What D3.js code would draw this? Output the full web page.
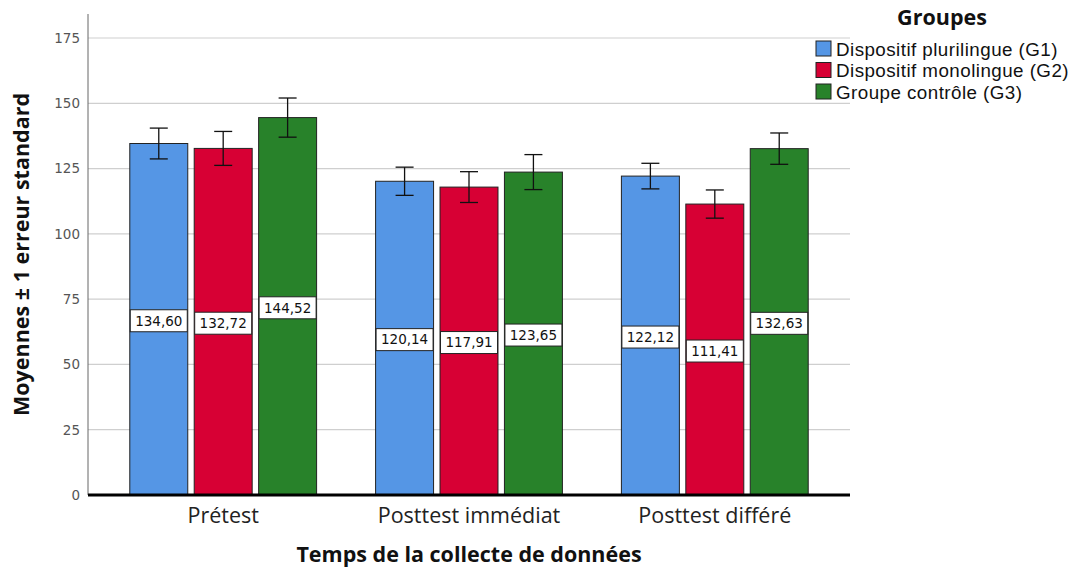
<!DOCTYPE html>
<html><head><meta charset="utf-8">
<script src="https://cdn.jsdelivr.net/npm/d3@7"></script>
<style>body{margin:0;background:#fff}svg{display:block}</style>
</head><body><svg id="c" width="1073" height="571"></svg>
<script>
const categories = ["Prétest", "Posttest immédiat", "Posttest différé"];
const groups = ["Dispositif plurilingue (G1)", "Dispositif monolingue (G2)", "Groupe contrôle (G3)"];
const g1Means = [134.60, 120.14, 122.12];
const g2Means = [132.72, 117.91, 111.41];
const g3Means = [144.52, 123.65, 132.63];
const g1SE = [5.9, 5.4, 4.9];
const g2SE = [6.5, 5.9, 5.4];
const g3SE = [7.5, 6.7, 6.0];
const yTicks = [0, 25, 50, 75, 100, 125, 150, 175];
const colors = ["#5596e5", "#d70034", "#28822a"];

const means = [g1Means, g2Means, g3Means];
const ses = [g1SE, g2SE, g3SE];
const data = [];
categories.forEach((c, i) => groups.forEach((g, j) => data.push({cat: c, grp: g, j, mean: means[j][i], se: ses[j][i]})));

const svg = d3.select("#c");
const L = 88, R = 850, T = 14, B = 495;
const x = d3.scaleBand().domain(categories).range([L, R]).paddingInner(0.24).paddingOuter(0.17);
const xs = d3.scaleBand().domain(groups).range([0, x.bandwidth()]).paddingInner(0.1).paddingOuter(0);
const y = d3.scaleLinear().domain([0, 175]).range([B, 38]);

// gridlines
svg.append("g").selectAll("line").data(yTicks.filter(t => t > 0)).join("line")
  .attr("x1", L).attr("x2", R).attr("y1", d => y(d)).attr("y2", d => y(d))
  .attr("stroke", "#cfcfcf").attr("stroke-width", 1.2);

// y axis
const ya = svg.append("g").attr("transform", `translate(${L},0)`)
  .call(d3.axisLeft(y).tickValues(yTicks).tickSize(0).tickPadding(8));
ya.select(".domain").remove();
ya.selectAll("text").attr("font-family", "'DejaVu Sans', sans-serif").attr("font-size", 13.5).attr("fill", "#555");
svg.append("line").attr("x1", L).attr("x2", L).attr("y1", T).attr("y2", B).attr("stroke", "#666").attr("stroke-width", 1);

// bars
const bars = svg.append("g");
bars.selectAll("rect").data(data).join("rect")
  .attr("x", d => x(d.cat) + xs(d.grp))
  .attr("width", xs.bandwidth())
  .attr("y", d => y(d.mean))
  .attr("height", d => y(0) - y(d.mean))
  .attr("fill", d => colors[d.j])
  .attr("stroke", "#222").attr("stroke-width", 1);

// error bars
const eb = svg.append("g").attr("stroke", "#111").attr("stroke-width", 1.3);
data.forEach(d => {
  const cx = x(d.cat) + xs(d.grp) + xs.bandwidth() / 2;
  eb.append("line").attr("x1", cx).attr("x2", cx).attr("y1", y(d.mean + d.se)).attr("y2", y(d.mean - d.se));
  eb.append("line").attr("x1", cx - 9).attr("x2", cx + 9).attr("y1", y(d.mean + d.se)).attr("y2", y(d.mean + d.se));
  eb.append("line").attr("x1", cx - 9).attr("x2", cx + 9).attr("y1", y(d.mean - d.se)).attr("y2", y(d.mean - d.se));
});

// value labels
const fmt = v => v.toFixed(2).replace(".", ",");
const lab = svg.append("g");
data.forEach(d => {
  const cx = x(d.cat) + xs(d.grp) + xs.bandwidth() / 2;
  const cy = y(d.mean / 2) + 1.5;
  lab.append("rect").attr("x", cx - 28.5).attr("y", cy - 11).attr("width", 57).attr("height", 22)
    .attr("fill", "#fff").attr("stroke", "#222").attr("stroke-width", 1);
  lab.append("text").attr("x", cx).attr("y", cy).attr("dy", "0.36em").attr("text-anchor", "middle")
    .attr("font-family", "'DejaVu Sans', sans-serif").attr("font-size", 13.5).attr("fill", "#111").text(fmt(d.mean));
});

// baseline
svg.append("line").attr("x1", L).attr("x2", R).attr("y1", B).attr("y2", B).attr("stroke", "#000").attr("stroke-width", 3);

// x axis labels
const xa = svg.append("g").attr("transform", `translate(0,${B})`)
  .call(d3.axisBottom(x).tickSize(0));
xa.select(".domain").remove();
xa.selectAll("text").attr("y", 28).attr("dy", 0)
  .attr("font-family", "'Open Sans', 'DejaVu Sans', sans-serif").attr("font-size", 21.5).attr("fill", "#222");

// axis titles
svg.append("text").attr("x", (L + R) / 2).attr("y", 562).attr("text-anchor", "middle")
  .attr("font-family", "'Open Sans', sans-serif").attr("font-weight", "bold").attr("font-size", 21.5).attr("fill", "#111")
  .text("Temps de la collecte de données");
svg.append("text").attr("transform", `translate(29,${(T + B) / 2}) rotate(-90)`).attr("text-anchor", "middle")
  .attr("font-family", "'Open Sans', sans-serif").attr("font-weight", "bold").attr("font-size", 21.5).attr("fill", "#111")
  .text("Moyennes ± 1 erreur standard");

// legend
const lg = svg.append("g");
lg.append("text").attr("x", 942).attr("y", 25).attr("text-anchor", "middle")
  .attr("font-family", "'Open Sans', sans-serif").attr("font-weight", "bold").attr("font-size", 21.5).attr("fill", "#111").text("Groupes");
groups.forEach((g, j) => {
  const yy = 41 + j * 21.5;
  lg.append("rect").attr("x", 816).attr("y", yy).attr("width", 15).attr("height", 15)
    .attr("fill", colors[j]).attr("stroke", "#222").attr("stroke-width", 1);
  lg.append("text").attr("x", 836).attr("y", yy + 8).attr("dy", "0.36em")
    .attr("font-family", "'Liberation Sans', Arial, sans-serif").attr("font-size", 18.8)
    .attr("letter-spacing", 0.45).attr("fill", "#111").text(g);
});
</script></body></html>
